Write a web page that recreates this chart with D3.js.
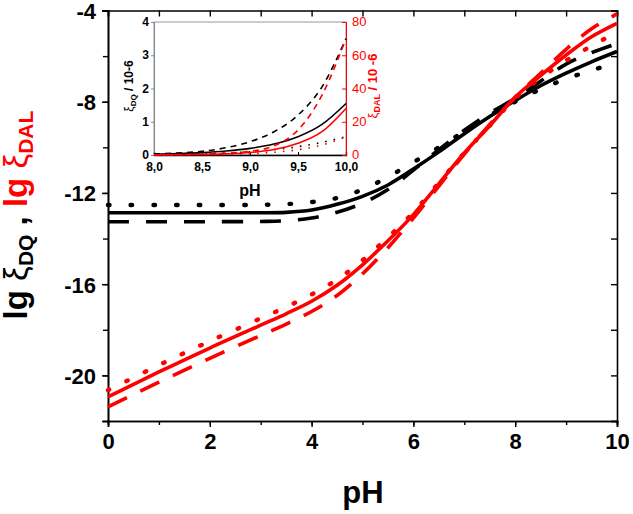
<!DOCTYPE html>
<html>
<head>
<meta charset="utf-8">
<script src="https://cdn.jsdelivr.net/npm/d3@7"></script>
<style>
  body { margin: 0; background: #fff; }
  svg { font-family: "Liberation Sans", Arial, sans-serif; }
</style>
</head>
<body>
<svg id="chart" width="633" height="514"></svg>
<script>
// main chart: lg xi vs pH
var pH = [0, 1, 2, 3, 3.5, 4, 4.5, 5, 5.5, 6, 6.5, 7, 7.5, 8, 8.5, 9, 9.5, 10];

var dqSolid  = [-12.87, -12.87, -12.87, -12.87, -12.85, -12.75, -12.5, -12.15, -11.65, -10.95, -10.2, -9.4, -8.65, -7.95, -7.3, -6.75, -6.25, -5.8];
var dqDotted = [-12.53, -12.53, -12.53, -12.52, -12.49, -12.4, -12.22, -11.85, -11.3, -10.65, -10.0, -9.3, -8.6, -8.0, -7.45, -7.0, -6.62, -6.3];
var dqDashed = [-13.26, -13.26, -13.26, -13.25, -13.22, -13.1, -12.85, -12.45, -11.85, -11.0, -10.1, -9.25, -8.5, -7.85, -7.1, -6.35, -5.85, -5.45];

var dalSolid  = [-20.94, -19.85, -18.8, -17.8, -17.3, -16.75, -16.05, -15.15, -14.1, -12.95, -11.6, -10.25, -9.05, -7.8, -6.85, -5.95, -5.15, -4.56];
var dalDotted = [-20.65, -19.55, -18.5, -17.5, -17.0, -16.45, -15.8, -14.95, -13.95, -12.85, -11.55, -10.25, -9.05, -7.85, -6.95, -6.2, -5.55, -4.95];
var dalDashed = [-21.38, -20.3, -19.25, -18.25, -17.75, -17.2, -16.5, -15.55, -14.4, -13.1, -11.7, -10.3, -9.0, -7.8, -6.75, -5.7, -4.8, -4.15];

// inset: xi / 10^-6 vs pH 8..10
var pHin = [8.0, 8.25, 8.5, 8.75, 9.0, 9.25, 9.5, 9.75, 10.0];
var inDqSolid   = [0.02, 0.04, 0.07, 0.12, 0.2, 0.33, 0.55, 0.92, 1.55];
var inDqDashed  = [0.03, 0.06, 0.11, 0.22, 0.4, 0.7, 1.2, 2.05, 3.5];
var inDqDotted  = [0.01, 0.02, 0.04, 0.06, 0.1, 0.16, 0.25, 0.38, 0.55];
var inDalSolid  = [0.05, 0.12, 0.3, 0.7, 1.5, 3.3, 7.0, 14, 28];
var inDalDashed = [0.15, 0.3, 0.6, 1.1, 2.2, 5.5, 15, 36, 70];
var inDalDotted = [0.05, 0.1, 0.2, 0.4, 0.8, 1.6, 3.2, 6.0, 11];

var xTicks = [0, 2, 4, 6, 8, 10];
var yTicks = [-20, -16, -12, -8, -4];
var inXTicks = [8.0, 8.5, 9.0, 9.5, 10.0];
var inYLTicks = [0, 1, 2, 3, 4];
var inYRTicks = [0, 20, 40, 60, 80];

var RED = "#ff0000";
var svg = d3.select("#chart");

var x = d3.scaleLinear().domain([0, 10]).range([108, 617]);
var y = d3.scaleLinear().domain([-22, -4]).range([421, 10.5]);

function zip(xs, ys) { return xs.map(function(v, i) { return [v, ys[i]]; }); }
function plain(d) { return String(d); }   // hyphen minus, like the original

// axes
var axBottom = svg.append("g").attr("transform", "translate(0," + y.range()[0] + ")");
axBottom.call(d3.axisBottom(x).tickValues(d3.range(0, 11, 1)).tickSize(4).tickFormat(""));
axBottom.append("g").call(d3.axisBottom(x).tickValues(xTicks).tickSize(6).tickPadding(6)
    .tickFormat(plain));
var axLeft = svg.append("g").attr("transform", "translate(" + x.range()[0] + ",0)");
axLeft.call(d3.axisLeft(y).tickValues(d3.range(-22, -3, 2)).tickSize(5).tickFormat(""));
axLeft.append("g").call(d3.axisLeft(y).tickValues(yTicks).tickSize(6).tickPadding(6)
    .tickFormat(plain));
var axTop = svg.append("g").attr("transform", "translate(0," + y.range()[1] + ")");
axTop.call(d3.axisBottom(x).tickValues(d3.range(0, 11, 1)).tickSize(6).tickFormat(""));
var axRight = svg.append("g").attr("transform", "translate(" + x.range()[1] + ",0)");
axRight.call(d3.axisLeft(y).tickValues(d3.range(-22, -3, 2)).tickSize(6).tickFormat(""));

svg.selectAll(".domain").attr("stroke-width", 1.6);
svg.selectAll(".tick line").attr("stroke-width", 1.4);
svg.selectAll(".tick text").attr("font-size", 22).attr("font-weight", "bold")
    .attr("font-family", "Liberation Sans, Arial, sans-serif").attr("fill", "#000");
axLeft.selectAll(".tick text").attr("dy", "0.36em");

// main curves
var line = d3.line().x(function(d) { return x(d[0]); }).y(function(d) { return y(d[1]); })
    .curve(d3.curveCatmullRom.alpha(0.5));

var mainSeries = [
  { v: dqSolid, c: "#000", dash: null },
  { v: dqDotted, c: "#000", dash: "1.5,21.2", dot: true },
  { v: dqDashed, c: "#000", dash: "21,17" },
  { v: dalSolid, c: RED, dash: null },
  { v: dalDotted, c: RED, dash: "1.5,19", dot: true },
  { v: dalDashed, c: RED, dash: "21,15" }
];
mainSeries.forEach(function(s) {
  svg.append("path")
    .datum(zip(pH, s.v))
    .attr("fill", "none")
    .attr("stroke", s.c)
    .attr("stroke-width", s.dot ? 4.4 : 3.6)
    .attr("stroke-linecap", s.dot ? "round" : "butt")
    .attr("stroke-dasharray", s.dash)
    .attr("d", line);
});

// axis titles
svg.append("text")
  .attr("x", 363).attr("y", 503)
  .attr("text-anchor", "middle")
  .attr("font-size", 31).attr("font-weight", "bold")
  .text("pH");

var yt = svg.append("text")
  .attr("transform", "translate(27,215) rotate(-90)")
  .attr("text-anchor", "middle")
  .attr("font-size", 33).attr("font-weight", "bold");
yt.append("tspan").text("lg ");
yt.append("tspan").attr("font-weight", "normal").text("ξ");
yt.append("tspan").attr("font-size", 21).attr("dy", 6).text("DQ");
yt.append("tspan").attr("dy", -6).text(" , ");
yt.append("tspan").attr("fill", RED).text("lg ");
yt.append("tspan").attr("fill", RED).attr("font-weight", "normal").text("ξ");
yt.append("tspan").attr("fill", RED).attr("font-size", 21).attr("dy", 6).text("DAL");

// inset
var ix = d3.scaleLinear().domain([8, 10]).range([154, 346]);
var iyL = d3.scaleLinear().domain([0, 4]).range([155, 22]);
var iyR = d3.scaleLinear().domain([0, 80]).range([155, 22]);

var inset = svg.append("g");
inset.append("rect").attr("x", 154).attr("y", 22).attr("width", 192).attr("height", 133)
  .attr("fill", "#fff").attr("stroke", "#999").attr("stroke-width", 1);

var ib = inset.append("g").attr("transform", "translate(0,155)");
ib.call(d3.axisBottom(ix).tickValues(inXTicks).tickSize(-3).tickPadding(7)
  .tickFormat(function(d) { return d3.format(".1f")(d).replace(".", ","); }));
var il = inset.append("g").attr("transform", "translate(154,0)");
il.call(d3.axisLeft(iyL).tickValues(inYLTicks).tickSize(3).tickPadding(2).tickFormat(plain));
var ir = inset.append("g").attr("transform", "translate(346,0)");
ir.call(d3.axisRight(iyR).tickValues(inYRTicks).tickSize(-4).tickPadding(6).tickFormat(plain));

inset.selectAll(".tick text").attr("font-size", 12).attr("font-weight", "bold")
  .attr("font-family", "Liberation Sans, Arial, sans-serif");
il.select(".domain").attr("stroke", "#888");
il.selectAll(".tick line").attr("stroke", "#888");
il.selectAll(".tick text").attr("dy", "0.3em");
ir.select(".domain").attr("stroke", RED);
ir.selectAll(".tick line").attr("stroke", RED);
ir.selectAll(".tick text").attr("fill", RED).attr("font-weight", "normal").attr("font-size", 13)
  .attr("dy", "0.3em");
ib.select(".domain").attr("stroke-width", 1.4);

var iline = function(ys) {
  return d3.line().x(function(d) { return ix(d[0]); }).y(function(d) { return ys(d[1]); })
    .curve(d3.curveMonotoneX);
};
var insetSeries = [
  { v: inDqSolid, c: "#000", dash: null, s: iyL },
  { v: inDqDashed, c: "#000", dash: "6,5", s: iyL },
  { v: inDqDotted, c: "#000", dash: "1.6,7", s: iyL },
  { v: inDalSolid, c: RED, dash: null, s: iyR },
  { v: inDalDashed, c: RED, dash: "6,5", s: iyR },
  { v: inDalDotted, c: RED, dash: "1.6,7", s: iyR }
];
insetSeries.forEach(function(s) {
  inset.append("path")
    .datum(zip(pHin, s.v))
    .attr("fill", "none")
    .attr("stroke", s.c)
    .attr("stroke-width", 1.6)
    .attr("stroke-dasharray", s.dash)
    .attr("d", iline(s.s));
});

inset.append("text")
  .attr("x", 250).attr("y", 196)
  .attr("text-anchor", "middle")
  .attr("font-size", 16).attr("font-weight", "bold")
  .text("pH");

var il1 = inset.append("text")
  .attr("transform", "translate(133,86) rotate(-90)")
  .attr("text-anchor", "middle")
  .attr("font-size", 12).attr("font-weight", "bold");
il1.append("tspan").attr("font-weight", "normal").text("ξ");
il1.append("tspan").attr("font-size", 8).attr("dy", 3).text("DQ");
il1.append("tspan").attr("dy", -3).text(" / 10-6");

var ir1 = inset.append("text")
  .attr("transform", "translate(377,86) rotate(-90)")
  .attr("text-anchor", "middle")
  .attr("fill", RED)
  .attr("font-size", 13).attr("font-weight", "bold");
ir1.append("tspan").attr("font-weight", "normal").text("ξ");
ir1.append("tspan").attr("font-size", 9).attr("dy", 3).text("DAL");
ir1.append("tspan").attr("dy", -3).text(" / 10 -6");
</script>
</body>
</html>
